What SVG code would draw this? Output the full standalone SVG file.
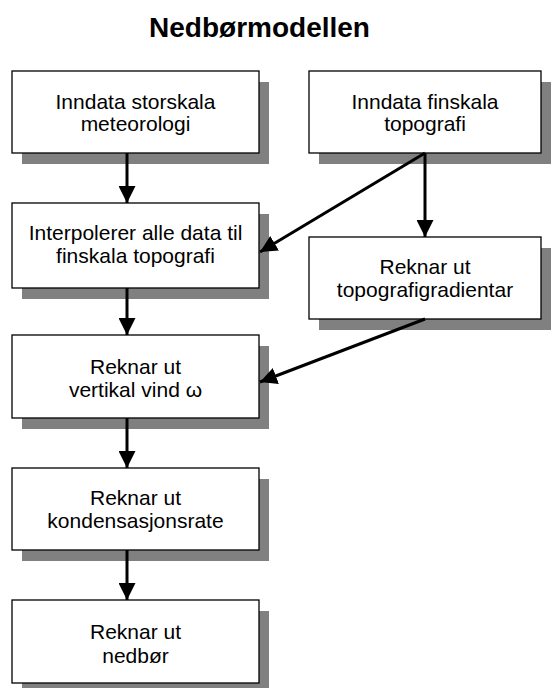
<svg xmlns="http://www.w3.org/2000/svg" width="558" height="688" viewBox="0 0 558 688">
<style>
.shadow{fill:#808080;stroke:none}
.box{fill:#fff;stroke:#000;stroke-width:1.3}
.t{font-family:"Liberation Sans",Arial,sans-serif;font-size:21px;fill:#000;text-anchor:middle}
.title{font-family:"Liberation Sans",Arial,sans-serif;font-size:28px;font-weight:bold;fill:#000;text-anchor:middle}
.c{stroke:#000;stroke-width:3;fill:none}
</style>
<defs>
<marker id="ah" markerUnits="userSpaceOnUse" markerWidth="18" markerHeight="17" refX="17" refY="8.5" orient="auto">
<path d="M0,0 L17,8.5 L0,17 Z" fill="#000"/>
</marker>
</defs>
<rect width="558" height="688" fill="#fff"/>
<text class="title" x="259.5" y="36.5">Nedbørmodellen</text>
<g id="n1"><rect class="shadow" x="22" y="82" width="247" height="82"/><rect class="box" x="12" y="71" width="247" height="82"/><text class="t" x="135.5" y="108.5">Inndata storskala</text><text class="t" x="135.5" y="131">meteorologi</text></g>
<g id="n2"><rect class="shadow" x="319" y="82" width="232" height="82"/><rect class="box" x="309" y="71" width="232" height="82"/><text class="t" x="425" y="108.5">Inndata finskala</text><text class="t" x="425" y="131">topografi</text></g>
<g id="n3"><rect class="shadow" x="22" y="214" width="247" height="85"/><rect class="box" x="12" y="203" width="247" height="85"/><text class="t" x="135.5" y="239.5">Interpolerer alle data til</text><text class="t" x="135.5" y="263">finskala topografi</text></g>
<g id="n4"><rect class="shadow" x="319" y="248" width="232" height="82"/><rect class="box" x="309" y="237" width="232" height="82"/><text class="t" x="425" y="273.5">Reknar ut</text><text class="t" x="425" y="296.5">topografigradientar</text></g>
<g id="n5"><rect class="shadow" x="22" y="346" width="247" height="83"/><rect class="box" x="12" y="335" width="247" height="83"/><text class="t" x="135.5" y="373.5">Reknar ut</text><text class="t" x="135.5" y="396.5">vertikal vind ω</text></g>
<g id="n6"><rect class="shadow" x="22" y="479" width="247" height="82"/><rect class="box" x="12" y="468" width="247" height="82"/><text class="t" x="135.5" y="505">Reknar ut</text><text class="t" x="135.5" y="528">kondensasjonsrate</text></g>
<g id="n7"><rect class="shadow" x="22" y="611" width="247" height="83"/><rect class="box" x="12" y="600" width="247" height="83"/><text class="t" x="135.5" y="639">Reknar ut</text><text class="t" x="135.5" y="662.5">nedbør</text></g>
<g id="connectors">
<line class="c" x1="127" y1="153" x2="127" y2="203" marker-end="url(#ah)"/>
<line class="c" x1="425" y1="153" x2="425" y2="237" marker-end="url(#ah)"/>
<line class="c" x1="425" y1="153" x2="260" y2="252" marker-end="url(#ah)"/>
<line class="c" x1="127" y1="288" x2="127" y2="335" marker-end="url(#ah)"/>
<line class="c" x1="425" y1="319" x2="260" y2="382" marker-end="url(#ah)"/>
<line class="c" x1="127" y1="418" x2="127" y2="468" marker-end="url(#ah)"/>
<line class="c" x1="127" y1="550" x2="127" y2="600" marker-end="url(#ah)"/>
</g>
</svg>
